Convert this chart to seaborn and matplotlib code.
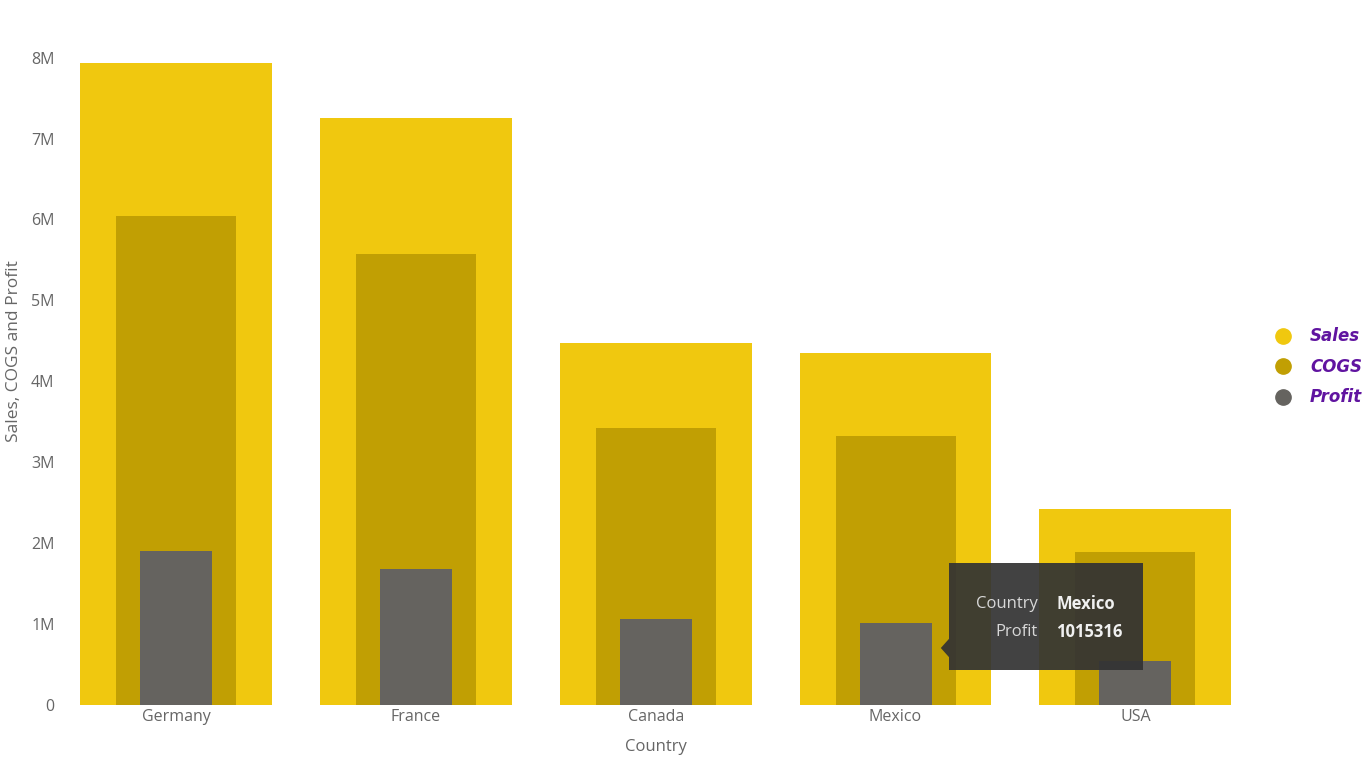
import numpy as np
import pandas as pd
import matplotlib.pyplot as plt
import seaborn as sns
from matplotlib.patches import FancyBboxPatch, Polygon
from matplotlib.lines import Line2D

sns.set_theme(style="white")
plt.rcParams['font.family'] = ['Open Sans', 'DejaVu Sans']

countries = ["Germany", "France", "Canada", "Mexico", "USA"]
sales = [7.94e6, 7.25e6, 4.47e6, 4.35e6, 2.42e6]
cogs = [6.04e6, 5.57e6, 3.42e6, 3.33e6, 1.89e6]
profit = [1.90e6, 1.68e6, 1.06e6, 1015316, 0.54e6]

df = pd.DataFrame({"Country": countries, "Sales": sales, "COGS": cogs, "Profit": profit})

c_sales = "#F0C80F"
c_cogs = "#C19F03"
c_profit = "#65635F"
txt_grey = "#666666"

fig = plt.figure(figsize=(13.66, 7.62), dpi=100)
ax = fig.add_axes([0.041, 0.0748, 0.878, 0.892])

# overlapping bars, widest first
sns.barplot(data=df, x="Country", y="Sales", color=c_sales, width=0.8, saturation=1, linewidth=0, ax=ax)
sns.barplot(data=df, x="Country", y="COGS", color=c_cogs, width=0.5, saturation=1, linewidth=0, ax=ax)
sns.barplot(data=df, x="Country", y="Profit", color=c_profit, width=0.3, saturation=1, linewidth=0, ax=ax)

ax.set_xlim(-0.5, 4.5)
ax.set_ylim(0, 8.4e6)
ax.set_yticks(np.arange(0, 9e6, 1e6))
ax.set_yticklabels(["0"] + [f"{i}M" for i in range(1, 9)])
ax.tick_params(axis="both", colors=txt_grey, labelsize=11.5, length=0, pad=3)
ax.tick_params(axis="y", pad=1)
for s in ax.spines.values():
    s.set_visible(False)
ax.grid(False)
ax.set_xlabel("Country", color=txt_grey, fontsize=12, labelpad=10)
ax.set_ylabel("Sales, COGS and Profit", color=txt_grey, fontsize=12.5)
ax.yaxis.set_label_coords(-0.028, 0.52)

# legend
handles = [Line2D([0], [0], marker="o", linestyle="", markersize=11, color=c)
           for c in [c_sales, c_cogs, c_profit]]
leg = fig.legend(handles, ["Sales", "COGS", "Profit"], loc="center left",
                 bbox_to_anchor=(1275 / 1366, 1 - 367 / 762), frameon=False,
                 borderaxespad=0, borderpad=0, handlelength=1.0, handletextpad=1.1,
                 labelspacing=0.75,
                 prop={"style": "italic", "weight": "bold", "size": 12, "family": "DejaVu Sans"})
for t in leg.get_texts():
    t.set_color("#6014A0")

# tooltip over Mexico
tip_x0, tip_x1 = 949 / 1366, 1143 / 1366
tip_y0, tip_y1 = 1 - 670 / 762, 1 - 563 / 762
box = FancyBboxPatch((tip_x0, tip_y0), tip_x1 - tip_x0, tip_y1 - tip_y0,
                     boxstyle="square,pad=0", transform=fig.transFigure,
                     facecolor="#333333", alpha=0.93, edgecolor="none", zorder=10)
fig.patches.append(box)
ty = 1 - 648 / 762
tri = Polygon([[tip_x0, ty + 0.012], [tip_x0, ty - 0.012], [tip_x0 - 0.006, ty]],
              closed=True, transform=fig.transFigure, facecolor="#333333",
              alpha=0.93, edgecolor="none", zorder=10)
fig.patches.append(tri)
fig.text(1038 / 1366, 1 - 604 / 762, "Country", ha="right", va="center",
         color="#d8d8d8", fontsize=12, zorder=11)
fig.text(1038 / 1366, 1 - 632 / 762, "Profit", ha="right", va="center",
         color="#d8d8d8", fontsize=12, zorder=11)
fig.text(1056 / 1366, 1 - 604 / 762, "Mexico", ha="left", va="center",
         color="#f0f0f0", fontsize=12, fontweight="bold", zorder=11)
fig.text(1056 / 1366, 1 - 632 / 762, f"{profit[3]:.0f}", ha="left", va="center",
         color="#f0f0f0", fontsize=12, fontweight="bold", zorder=11)

fig.savefig("out.png", dpi=100)
